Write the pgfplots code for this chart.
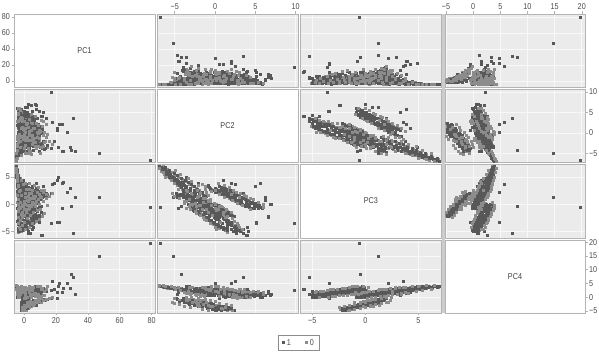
\documentclass[border=0pt]{standalone}
\usepackage{pgfplots}
\usepackage{pgfplotstable}
\usepackage{fontspec}
\setmainfont[FakeStretch=0.85]{Liberation Sans}
\pgfplotsset{compat=1.18}
\pgfplotstableread{
PC1 PC2 PC3 PC4
79.5 -6.8 -0.55 19.7
47 -5.1 1.2 14.8
31 3.5 -5.3 7.2
29.5 -4.2 -0.5 8.2
17 9.9 -3.6 2.3
32 -4.6 1.2 1.1
27.5 0.0 2.2 4.9
29 -3.5 2.9 3.3
24.5 -4.4 4.0 3.3
24 -4.5 -0.7 1.5
21.5 -3.5 4.9 3.8
22 2.0 -3.4 4.9
21 0.5 -3.4 -0.5
18 2.5 3.6 5.8
19 -2.0 3.8 2.6
24 2.1 3.9 1.5
21 1.1 4.3 1.6
14 3.5 2.0 2.0
7.3 6.9 0.0 0.6
4.8 6.6 -2.4 2.0
2.3 6.3 1.2 0.4
8 5.6 3.9 1.2
10 5.2 -3.4 1.5
11.6 4.0 -5.7 2.7
4 3.5 -5.3 0.8
3 4.2 -5.0 2.0
6 4.0 -4.3 1.0
11 3.9 -5.8 2.7
3 2.7 -5.3 1.0
5 3.5 -4.6 0.5
5 5.2 -3.5 1.2
7.5 6.7 -2.3 1.3
12.5 5.0 3.3 0.7
1 6.3 0.7 0.4
3 7.0 0.0 0.9
-1.8 2.4 -2.2 -4.8
0.0 0.7 -2.1 -4.1
-1.5 1.5 -2.0 -4.4
-1.8 0.0 -1.9 -4.8
-0.4 1.6 -1.8 -3.8
-1.8 0.5 -1.7 -4.3
1.2 1.9 -1.6 -3.8
-1.2 -0.3 -1.5 -4.4
1.1 0.8 -1.4 -3.3
2.0 -0.2 -1.3 -4.1
-0.3 1.1 -1.2 -3.5
-1.5 -0.8 -1.1 -4.2
3.4 0.6 -1.0 -3.1
0.2 0.9 -0.9 -3.9
-1.4 -1.0 -0.8 -3.0
2.6 0.5 -0.7 -3.6
5.2 -1.3 -0.6 -2.6
-1.1 0.1 -0.5 -3.5
1.0 -1.2 -0.4 -2.7
4.0 0.4 -0.3 -3.2
6.4 -0.9 -0.2 -2.4
-1.5 -1.9 -0.1 -3.2
2.8 -0.4 0.0 -2.3
7.6 -2.5 0.1 -2.9
0.4 -0.6 0.2 -2.0
4.9 -1.4 0.3 -2.7
9.0 -2.9 0.4 -1.9
-1.2 -0.9 0.5 -2.5
3.2 -2.4 0.6 -1.6
6.5 -1.3 0.7 -2.3
10.5 -3.5 0.8 -1.4
1.5 -1.7 0.9 -2.0
8.0 -2.9 1.0 -1.2
-0.6 -1.8 1.1 -1.9
11.8 -3.9 1.2 -1.0
4.2 -2.2 1.3 -1.6
13.5 -3.7 1.4 -0.9
2.0 -2.5 1.5 -1.5
9.5 -4.6 1.6 -0.7
15 -3.1 1.7 -0.8
5.8 -4.3 1.8 -1.1
17 -3.9 1.9 -0.5
3.0 -4.8 2.0 -0.6
-3.2 3.2 -5.0 0.0
-1.5 1.6 -4.9 1.0
-3.6 2.7 -4.8 -0.1
0.6 1.1 -4.7 0.9
-2.4 2.9 -4.6 1.2
2.0 1.3 -4.5 -0.2
-3.7 2.8 -4.4 1.1
-0.6 0.8 -4.3 1.5
3.0 2.4 -4.2 0.1
-3.1 0.7 -4.1 1.4
1.0 2.5 -4.0 0.2
-1.8 0.3 -3.9 1.7
4.5 1.9 -3.8 0.3
-3.6 0.2 -3.7 1.3
1.4 2.1 -3.6 1.9
6.0 -0.1 -3.5 0.5
-2.2 1.8 -3.4 1.8
3.5 -0.3 -3.3 0.7
-3.8 1.7 -3.2 2.2
7.2 -0.4 -3.1 1.0
0.2 1.6 -3.0 2.3
5.0 -0.7 -2.9 0.6
-2.8 1.2 -2.8 2.0
8.8 -1.0 -2.7 2.4
2.2 1.1 -2.6 1.0
-3.4 -1.0 -2.5 2.3
5.8 0.6 -2.4 1.0
1.0 -1.4 -2.3 2.8
10.3 0.4 -2.2 1.2
-1.5 -1.5 -2.1 2.6
3.9 0.3 -2.0 2.9
6.9 -1.9 -1.9 1.2
-3.2 -0.1 -1.8 2.7
12.2 -2.1 -1.7 3.2
1.7 -0.3 -1.6 1.5
5.2 -2.3 -1.5 2.6
-1.1 -0.4 -1.4 3.3
8.4 -2.5 -1.3 1.6
3.0 -0.7 -1.2 3.0
-3.6 -2.7 -1.1 2.0
6.4 -0.8 -1.0 3.5
0.5 -2.6 -0.9 2.5
9.7 -0.9 -0.8 1.8
-2.4 -2.9 -0.7 3.4
4.2 -1.1 -0.6 2.0
11 -3.0 -0.5 3.0
-0.4 -1.3 -0.4 2.2
7.3 -3.2 -0.3 3.7
2.2 -1.6 -0.2 2.1
-3.0 -3.3 -0.1 3.2
5.7 -1.4 0.0 2.4
-3.8 5.9 -0.8 -0.1
-3.0 4.5 -0.7 0.7
-1.9 5.7 -0.6 0.0
-3.5 4.9 -0.5 1.2
-0.9 3.8 -0.4 -0.2
-3.1 5.5 -0.3 1.1
0.6 4.0 -0.2 0.1
-2.3 5.0 -0.1 1.4
-3.7 3.4 0.0 -0.1
1.9 4.7 0.1 0.6
-0.6 3.2 0.2 1.5
3.1 4.4 0.3 0.2
-2.6 3.0 0.4 1.7
5.1 3.9 0.5 0.4
0.9 2.7 0.6 1.6
-3.3 4.2 0.7 0.4
6.3 2.5 0.8 1.9
2.5 3.8 0.9 0.6
-1.1 2.2 1.0 1.9
8.6 3.6 1.1 0.6
3.9 1.9 1.2 2.0
-2.9 3.3 1.3 0.8
10.1 1.5 1.4 2.1
1.3 3.0 1.5 1.0
5.6 1.2 1.6 2.3
-3.6 2.8 1.7 0.9
11.6 0.9 1.8 2.1
3.0 2.6 1.9 1.1
7.5 0.6 2.0 2.4
-1.7 2.5 2.1 1.2
4.3 0.2 2.2 2.7
9.3 2.0 2.3 1.3
-3.1 0.0 2.4 2.6
1.1 1.9 2.5 1.5
6.1 -0.2 2.6 2.9
3.1 1.4 2.7 1.6
-2.1 -0.5 2.8 2.7
8.1 1.2 2.9 1.7
0.5 -0.7 3.0 3.0
2.2 0.9 3.1 1.9
-3.0 -0.9 3.2 2.9
5.0 0.6 3.3 1.9
-1.0 -0.8 3.4 3.1
-3.6 -1.1 1.5 0.6
1.0 -3.1 1.6 2.3
4.5 -1.4 1.7 0.9
-2.0 -3.4 1.9 2.5
2.8 -1.6 2.1 1.2
-3.9 -3.6 2.3 2.5
5.6 -2.1 2.4 1.3
0.0 -3.9 2.6 2.8
-2.9 -2.2 2.8 1.4
3.0 -4.2 3.0 3.0
-3.8 -2.5 3.2 1.7
-1.0 -4.4 3.4 3.1
1.5 -2.9 3.6 1.8
-3.5 -4.7 3.8 3.2
-2.2 -3.3 4.0 2.0
-4.1 -5.0 4.2 3.3
-0.5 -3.7 4.4 2.3
-3.7 -5.3 4.6 3.5
-2.8 -4.2 4.8 2.4
-4.4 -5.7 5.0 3.6
-3.6 -4.7 5.2 2.8
-4.5 -6.0 5.4 3.7
-4.0 -5.0 5.7 3.1
-4.6 -6.3 6.0 3.8
-4.3 -5.6 6.2 3.3
-4.7 -6.5 6.5 3.9
-4.5 -6.2 6.8 3.5
-4.8 -6.9 7.0 4.0
}\dataA
\pgfplotstableread{
PC1 PC2 PC3 PC4
-1.3 0.8 -2.3 -4.4
0.0 2.2 -2.15 -4.9
-1.9 -0.1 -2.0 -4.1
0.6 1.9 -1.85 -4.6
-0.7 0.0 -1.75 -3.9
1.3 1.5 -1.65 -4.8
-1.5 -0.4 -1.55 -3.7
0.3 1.2 -1.45 -4.5
2.0 -0.5 -1.35 -3.5
-0.9 1.6 -1.25 -4.4
1.0 -0.7 -1.15 -3.3
2.8 1.3 -1.05 -4.3
-1.3 -0.9 -0.95 -3.1
3.6 1.0 -0.85 -3.8
0.9 -1.2 -0.75 -2.9
-0.4 0.9 -0.65 -3.9
2.7 -1.1 -0.55 -2.8
4.8 0.6 -0.45 -3.5
-1.6 -1.6 -0.35 -2.8
1.8 0.5 -0.25 -3.4
3.5 -1.9 -0.15 -2.4
6.0 0.2 -0.05 -3.0
-0.2 -1.9 0.05 -2.2
2.6 -0.1 0.15 -3.0
5.0 -2.4 0.25 -2.0
7.8 -0.5 0.35 -2.8
0.9 -2.6 0.45 -1.8
3.9 -0.6 0.55 -2.6
6.6 -2.8 0.65 -1.7
-1.0 -0.9 0.75 -2.4
9.4 -2.2 0.85 -1.5
2.3 -3.3 0.95 -2.2
5.9 -1.5 1.05 -1.4
11.2 -3.4 1.15 -1.9
1.1 -1.9 1.25 -1.2
7.7 -3.7 1.35 -1.8
13.2 -2.2 1.45 -1.1
3.4 -4.1 1.55 -1.4
10.3 -2.7 1.65 -0.8
-0.8 -4.4 1.75 -1.3
14.5 -3.5 1.85 -0.7
-3.2 1.5 -5.1 0.9
-1.6 3.3 -4.95 0.3
-0.2 1.3 -4.85 1.2
-2.8 2.9 -4.75 -0.2
1.0 1.0 -4.65 1.3
-3.6 2.7 -4.55 0.1
0.2 0.6 -4.45 1.4
-1.2 2.6 -4.35 -0.1
3.0 0.5 -4.25 1.6
-3.0 2.4 -4.1 0.1
1.6 0.2 -3.95 1.6
-0.4 2.5 -3.85 0.3
5.0 -0.2 -3.75 1.8
-2.4 2.2 -3.55 0.4
2.2 -0.3 -3.45 2.0
6.4 1.9 -3.35 0.6
-3.6 -0.5 -3.15 2.1
0.5 1.7 -3.05 0.7
3.6 -0.8 -2.95 2.2
-1.7 1.4 -2.75 0.9
7.6 -1.0 -2.65 2.4
1.4 1.3 -2.55 0.9
-3.1 -1.1 -2.35 2.6
4.2 1.0 -2.25 1.1
9.3 -1.3 -2.15 2.6
-0.6 0.8 -1.95 1.3
2.6 -1.6 -1.85 2.8
6.0 0.6 -1.75 1.3
-2.2 -1.8 -1.55 3.0
11 0.5 -1.45 1.4
0.6 -2.0 -1.35 3.1
4.4 0.2 -1.25 1.6
-3.4 -2.3 -1.05 3.3
7.4 0.0 -0.95 1.7
1.9 -2.5 -0.85 3.2
-1.5 -0.5 -0.65 1.9
5.4 -2.8 -0.55 3.4
9.6 -0.7 -0.45 2.0
0.0 -3.0 -0.25 3.5
3.2 -1.0 -0.15 2.2
-2.6 -3.2 -0.05 3.6
6.9 -1.2 0.1 2.3
-3.2 5.4 -0.75 0.8
-1.2 4.3 -0.65 -0.1
-3.6 5.8 -0.55 0.9
-2.0 4.1 -0.45 0.0
-0.2 5.2 -0.35 1.2
-3.3 3.6 -0.25 0.1
-1.4 5.0 -0.15 1.3
1.0 3.3 -0.05 -0.1
-3.0 4.8 0.05 1.4
-0.2 3.0 0.15 0.2
2.4 4.6 0.25 1.5
-3.8 2.9 0.35 0.2
3.6 4.3 0.45 1.6
-1.2 2.6 0.55 0.3
5.6 4.1 0.65 1.7
0.2 2.3 0.75 0.4
-3.0 3.9 0.85 1.8
7.2 2.1 0.95 0.5
2.0 3.6 1.05 1.9
-0.6 1.8 1.15 0.6
4.5 3.4 1.25 2.0
9.2 1.6 1.35 0.7
-2.4 3.1 1.45 2.1
1.8 1.3 1.55 0.8
6.4 2.9 1.65 2.2
-3.5 1.0 1.75 0.9
3.3 2.6 1.85 2.3
10.8 0.8 1.95 1.0
-0.6 2.4 2.05 2.4
5.1 0.5 2.15 1.1
8.0 2.1 2.25 2.5
-2.6 0.3 2.35 1.3
2.0 1.8 2.45 2.6
6.8 0.0 2.55 1.4
-0.8 1.5 2.65 2.7
4.0 -0.4 2.75 1.5
-3.2 1.3 2.85 2.8
1.5 -0.6 2.95 1.6
3.0 1.0 3.15 2.9
-1.7 -0.9 3.3 1.8
-3.2 -3.0 1.55 2.2
2.0 -1.2 1.65 0.8
-1.0 -3.4 1.8 2.4
-3.8 -1.5 2.0 1.0
3.6 -3.7 2.2 2.6
-1.4 -1.9 2.45 1.2
-3.2 -4.0 2.65 2.8
1.6 -2.3 2.9 1.5
-4.0 -4.3 3.1 3.0
-1.6 -2.8 3.3 1.6
0.4 -4.6 3.5 3.1
-3.0 -3.2 3.7 1.9
-4.2 -4.9 3.9 3.3
-1.4 -3.6 4.1 2.1
-3.4 -5.2 4.3 3.4
-4.4 -4.0 4.5 2.3
-2.2 -5.5 4.7 3.5
-4.0 -4.5 4.9 2.6
-4.5 -5.9 5.1 3.7
-3.2 -5.0 5.3 2.8
-4.6 -6.3 5.55 3.8
-4.2 -5.3 5.8 3.0
-4.7 -6.6 6.05 3.9
-4.4 -5.9 6.3 3.3
-4.8 -6.9 6.6 4.0
-4.6 -6.4 6.9 3.6
}\dataB
\pgfplotstableread{
PC1 PC2 PC3 PC4
-1.0 1.5 -2.2 -4.6
-0.2 1.9 -2.13 -4.3
-1.7 0.8 -2.06 -4.8
0.5 2.1 -1.99 -4.0
-1.6 0.2 -1.92 -4.8
-0.8 1.3 -1.85 -4.4
0.2 0.7 -1.78 -4.2
-1.3 1.6 -1.71 -4.2
0.9 0.1 -1.64 -4.1
1.6 0.7 -1.57 -3.7
-1.0 0.6 -1.5 -4.4
1.2 1.7 -1.43 -3.8
-0.4 0.4 -1.36 -3.9
2.2 0.8 -1.29 -3.5
-1.6 -0.3 -1.22 -4.1
3.0 1.0 -1.15 -3.3
0.1 -0.9 -1.08 -4.0
-1.1 0.2 -1.01 -3.7
1.9 -0.5 -0.94 -3.4
-0.5 0.4 -0.87 -3.5
2.5 -1.1 -0.8 -3.4
4.2 -0.5 -0.73 -2.9
-1.7 -0.6 -0.66 -3.7
3.2 0.5 -0.59 -3.0
0.3 -0.8 -0.52 -3.2
5.0 -0.4 -0.45 -2.8
-1.2 -1.5 -0.38 -3.3
2.1 -0.2 -0.31 -2.6
0.9 -2.1 -0.24 -3.3
4.0 -1.0 -0.17 -3.0
-0.6 -1.7 -0.1 -2.7
6.2 -0.8 -0.03 -2.7
1.5 -2.3 0.04 -2.7
3.4 -1.7 0.11 -2.2
-1.4 -1.8 0.18 -2.9
7.0 -0.6 0.25 -2.3
2.4 -1.9 0.32 -2.4
5.2 -1.5 0.39 -2.1
-0.7 -2.6 0.46 -2.6
8.4 -1.3 0.53 -1.8
1.0 -3.2 0.6 -2.6
3.9 -2.1 0.67 -2.2
6.6 -2.8 0.74 -2.0
-1.5 -1.9 0.81 -2.0
2.7 -3.4 0.88 -1.9
9.8 -2.8 0.95 -1.5
0.6 -2.9 1.02 -2.2
5.5 -1.8 1.09 -1.6
7.4 -3.1 1.16 -1.7
-0.9 -2.7 1.23 -1.3
3.2 -3.8 1.3 -1.9
11.4 -2.5 1.37 -1.1
1.9 -4.4 1.44 -1.8
6.1 -3.3 1.51 -1.5
12.8 -4.0 1.58 -1.2
0.2 -3.1 1.65 -1.3
-2.8 2.3 -5.0 0.4
-1.0 2.8 -4.91 0.7
-3.4 1.6 -4.82 0.3
0.2 3.1 -4.73 1.0
-2.2 1.0 -4.64 0.2
1.2 2.0 -4.55 0.5
-3.7 1.6 -4.46 0.9
-0.4 2.5 -4.37 0.8
2.4 1.0 -4.28 0.8
-2.0 1.6 -4.19 1.3
0.6 1.6 -4.1 0.3
-3.0 0.3 -4.01 1.2
3.8 1.5 -3.92 0.9
-1.3 2.0 -3.83 1.3
0.9 0.4 -3.74 0.6
-3.5 1.6 -3.65 1.0
4.8 0.9 -3.56 1.2
-1.7 2.1 -3.47 1.6
1.6 -0.1 -3.38 0.8
5.6 0.6 -3.29 1.0
-2.7 1.4 -3.2 1.6
0.0 0.6 -3.11 0.8
6.7 1.6 -3.02 1.6
-3.2 -0.4 -2.93 0.9
2.3 0.4 -2.84 1.5
-1.0 0.2 -2.75 1.7
4.5 0.1 -2.66 1.2
8.0 1.2 -2.57 1.5
-2.4 -0.8 -2.48 1.1
1.4 -0.1 -2.39 2.2
5.3 -0.7 -2.3 1.4
-0.3 0.6 -2.21 2.0
9.6 0.5 -2.12 2.1
3.0 -0.6 -2.03 1.6
-3.4 -0.5 -1.94 1.4
6.4 0.0 -1.85 1.6
0.8 -0.9 -1.76 2.6
-2.0 -1.3 -1.67 1.7
4.2 -1.3 -1.58 2.5
11.0 -0.1 -1.49 2.6
-0.9 -2.0 -1.4 2.3
2.7 -1.0 -1.31 1.9
7.6 -1.7 -1.22 2.7
-3.0 -0.9 -1.13 2.7
5.0 -1.5 -1.04 2.2
0.3 -0.3 -0.95 2.3
8.8 -1.8 -0.86 3.0
-1.8 -2.5 -0.77 1.8
3.5 -1.4 -0.68 2.4
-0.6 -2.0 -0.59 2.4
6.0 -2.6 -0.5 2.9
1.6 -1.0 -0.41 2.5
-3.2 -1.7 -0.32 2.1
4.6 -2.3 -0.23 3.0
10 -1.1 -0.14 2.6
-3.4 4.9 -0.8 0.3
-2.2 5.4 -0.72 0.7
-1.0 4.3 -0.64 0.1
-3.0 5.6 -0.56 0.9
-0.2 3.8 -0.48 0.0
-2.6 5.0 -0.4 0.4
-1.4 4.2 -0.32 0.6
0.4 5.3 -0.24 0.5
-3.4 3.7 -0.16 0.6
1.2 4.3 -0.08 1.0
-1.8 3.9 0.0 0.1
2.4 5.0 0.08 0.9
-0.8 3.9 0.16 0.7
-3.0 4.5 0.24 1.1
3.6 3.2 0.32 0.5
0.0 4.6 0.4 1.3
-2.2 2.7 0.48 0.6
4.4 3.3 0.56 0.9
-0.5 3.0 0.64 1.1
1.9 4.0 0.72 1.0
-3.6 2.4 0.8 0.8
6.8 3.3 0.88 1.5
2.8 2.1 0.96 1.3
-1.4 3.4 1.04 1.6
5.0 2.5 1.12 1.0
-2.6 2.6 1.2 1.4
7.8 2.0 1.28 1.3
0.6 1.7 1.36 1.7
3.4 1.2 1.44 1.4
-3.0 2.0 1.52 1.6
8.9 1.3 1.6 2.0
1.9 2.4 1.68 1.3
-0.8 1.0 1.76 1.5
5.8 1.9 1.84 1.8
10.4 1.3 1.92 1.4
-2.4 1.7 2.0 1.7
3.6 1.0 2.08 2.1
7.0 1.3 2.16 1.7
0.0 0.4 2.24 2.2
-3.4 1.4 2.32 2.2
4.9 1.2 2.4 1.9
2.4 0.5 2.48 2.5
8.6 0.8 2.56 1.7
-1.2 0.1 2.64 2.0
5.6 1.2 2.72 2.4
1.0 0.2 2.8 2.6
-2.6 0.1 2.88 2.1
3.6 0.8 2.96 2.2
-3.6 -2.0 1.5 1.5
0.5 -2.4 1.64 1.9
3.2 -1.9 1.78 1.3
-2.8 -2.9 1.92 2.1
1.4 -2.4 2.06 1.5
-3.6 -2.6 2.2 2.0
4.0 -3.1 2.34 2.3
-1.2 -2.6 2.48 1.7
-3.4 -3.2 2.62 1.9
2.2 -3.5 2.76 2.5
-2.4 -3.0 2.9 2.0
-0.4 -3.7 3.04 2.2
-3.8 -3.6 3.18 2.7
0.8 -3.6 3.32 2.0
-2.6 -3.8 3.46 2.5
-1.2 -4.1 3.6 2.4
-4.0 -3.9 3.74 2.6
-0.2 -4.4 3.88 2.8
-3.0 -4.0 4.02 2.6
-4.2 -4.5 4.16 2.9
-1.8 -4.8 4.3 2.7
-3.6 -4.6 4.44 2.8
-4.3 -4.8 4.58 3.1
-2.6 -5.0 4.72 2.9
-4.0 -5.1 4.86 3.0
-4.5 -5.3 5.0 3.2
-3.4 -5.4 5.14 3.1
-4.4 -5.5 5.28 3.2
-4.6 -5.5 5.42 3.3
-3.9 -5.8 5.56 3.4
-4.5 -5.6 5.7 3.5
-4.7 -6.1 5.85 3.4
-4.3 -6.0 6.0 3.5
-4.6 -6.2 6.15 3.6
-4.8 -6.3 6.3 3.6
-4.5 -6.5 6.45 3.7
-4.7 -6.7 6.6 3.7
-4.8 -6.7 6.75 3.8
}\dataC
\pgfplotstableread{
PC1 PC2 PC3 PC4
0.5 -0.3 -2.0 -3.5
1.5 2.0 -1.5 -3.0
-1.0 -0.8 -1.5 -4.9
3.0 1.4 -1.0 -2.6
0.0 -1.5 -1.0 -4.5
7.0 -2.3 -0.5 -2.1
-0.5 0.8 -0.5 -4.1
4.5 0.5 -0.5 -2.4
9.5 0.1 0.0 -1.6
1.0 -3.0 0.0 -3.7
5.5 -2.8 0.0 -1.9
12 -0.6 0.5 -1.2
2.5 -3.8 0.5 -3.3
8.0 -3.5 0.5 -1.4
0.0 -0.8 0.5 -3.1
14 -1.2 1.0 -0.8
4.0 -4.4 1.0 -2.8
6.5 -1.4 1.0 -2.6
16 -2.0 1.5 -0.4
3.0 -5.0 1.5 -2.3
10.5 -5.0 1.5 -0.6
6.0 -2.1 1.5 -2.2
18 -2.9 2.0 -0.1
4.5 -5.3 2.0 -1.8
11 -3.6 2.5 0.0
2.0 -1.9 -0.2 -3.6
3.6 -0.6 0.8 -3.3
5.8 -2.2 1.3 -3.0
8.7 -1.0 2.2 -1.9
12.5 -3.4 2.4 -1.4
-0.9 1.3 -2.4 -3.9
2.2 -1.0 -1.0 -2.1
4.1 -1.8 -0.2 -1.5
6.9 -2.4 0.2 -1.1
9.2 -3.2 0.8 -0.7
-2.5 3.4 -4.7 1.6
1.0 0.2 -4.6 1.9
-3.1 3.0 -4.3 -0.3
3.5 0.0 -4.2 2.2
-1.0 2.9 -3.9 2.0
5.5 -0.6 -3.6 2.5
-3.4 2.8 -3.5 -0.1
0.0 0.7 -3.3 2.6
7.5 2.4 -3.1 0.1
-2.2 -1.0 -3.0 2.9
9.5 -1.3 -2.8 0.3
2.4 2.2 -2.6 2.9
-3.2 -1.4 -2.4 0.4
11.5 1.5 -2.2 3.1
4.0 -1.8 -2.1 0.5
-1.3 1.1 -1.9 3.3
13 -2.3 -1.7 0.7
6.0 1.0 -1.5 3.4
-3.6 -2.4 -1.3 0.8
8.2 0.2 -1.2 3.7
1.2 -3.1 -1.0 1.1
10.5 0.4 -0.9 3.8
-2.0 -3.5 -0.8 1.2
3.3 0.0 -0.7 3.9
7.0 -3.2 -0.4 1.4
14.5 -0.4 -0.2 3.9
0.0 -3.8 0.1 1.5
5.1 -1.4 0.3 3.6
-3.6 4.4 -0.9 1.5
-2.6 6.0 -0.6 0.9
-1.0 3.4 -0.3 1.8
-3.2 6.0 0.0 1.5
0.5 2.8 0.2 -0.5
-2.2 5.4 0.4 1.9
2.2 2.2 0.6 -0.3
-3.4 4.8 0.8 2.2
4.5 4.4 1.0 -0.1
0.8 1.2 1.2 2.5
7.0 3.9 1.4 0.2
-1.6 3.7 1.6 2.7
9.4 0.5 1.8 0.3
3.2 3.2 2.0 2.9
12 2.7 2.2 0.6
-2.6 -0.4 2.4 3.1
5.4 2.3 2.6 0.8
1.6 -1.2 2.8 3.3
8.8 1.8 3.0 1.0
-3.4 -1.2 3.2 3.4
6.6 1.2 3.4 1.2
-0.6 -1.6 3.6 3.5
3.4 0.4 3.8 1.5
10.7 3.0 1.3 2.6
14 2.0 1.8 2.9
13 0.0 2.6 1.9
-3.8 -0.8 1.7 2.8
1.2 -1.8 2.0 0.3
-2.2 -2.2 2.6 0.8
3.5 -4.5 2.8 3.4
-3.4 -2.0 3.4 1.1
0.7 -5.0 3.8 3.6
-4.0 -2.9 4.1 1.4
-1.6 -5.4 4.4 3.8
-3.8 -3.3 4.8 1.9
-4.3 -6.1 5.0 4.0
-4.4 -4.3 5.4 2.4
-4.5 -6.4 5.8 4.1
-4.5 -4.9 6.2 2.9
-4.7 -6.9 6.5 4.2
}\dataD
\definecolor{frm}{HTML}{B4B4B4}
\definecolor{pbg}{HTML}{EBEBEB}
\definecolor{grd}{HTML}{F8F8F8}
\definecolor{darkp}{HTML}{585858}
\definecolor{lightp}{HTML}{8C8C8C}
\pgfplotsset{
  every axis/.append style={scale only axis, anchor=south west, axis line style={draw=frm,line width=0.9pt},
    tick align=outside, major tick length=2.5pt, tick style={draw=frm,line width=0.5pt},
    grid=major, grid style={draw=grd,line width=0.7pt}, axis on top=false,
    xticklabels={}, yticklabels={}, x tick style={draw=none}, y tick style={draw=none},
    ticklabel style={font=\fontsize{8.5}{9}\selectfont, text=black!70},
    xtick pos=bottom, ytick pos=left,
    xticklabel style={inner sep=1.5pt}, yticklabel style={inner sep=1.5pt},
    axis background/.style={fill=pbg}},
  xPC1/.style={xmin=-6.3,xmax=82.1,xtick={0,20,40,60,80},width=141pt},
  xPC2/.style={xmin=-7.2,xmax=10.3,xtick={-5,0,5,10},width=141pt},
  xPC3/.style={xmin=-6.16,xmax=7.2,xtick={-5,0,5},width=141.7pt},
  xPC4/.style={xmin=-5.2,xmax=20.6,xtick={-5,0,5,10,15,20},width=140pt},
  yPC1/.style={ymin=-7.5,ymax=83.75,ytick={0,20,40,60,80},height=73pt},
  yPC2/.style={ymin=-7.07,ymax=10.7,ytick={-5,0,5,10},height=73pt},
  yPC3/.style={ymin=-6.2,ymax=7.4,ytick={-5,0,5},height=74pt},
  yPC4/.style={ymin=-5.8,ymax=20.8,ytick={-5,0,5,10,15,20},height=73pt},
  xl1/.style={xticklabels={0,20,40,60,80},xtick pos=bottom,xticklabel pos=bottom,x tick style={draw=frm,line width=0.5pt}},
  xl3/.style={xticklabels={−5,0,5},xtick pos=bottom,xticklabel pos=bottom,x tick style={draw=frm,line width=0.5pt}},
  xl2/.style={xticklabels={−5,0,5,10},xtick pos=top,xticklabel pos=top,x tick style={draw=frm,line width=0.5pt}},
  xl4/.style={xticklabels={−5,0,5,10,15,20},xtick pos=top,xticklabel pos=top,x tick style={draw=frm,line width=0.5pt}},
  yl1/.style={yticklabels={0,20,40,60,80},ytick pos=left,yticklabel pos=left,y tick style={draw=frm,line width=0.5pt}},
  yl3/.style={yticklabels={−5,0,5},ytick pos=left,yticklabel pos=left,y tick style={draw=frm,line width=0.5pt}},
  yl2/.style={yticklabels={−5,0,5,10},ytick pos=right,yticklabel pos=right,y tick style={draw=frm,line width=0.5pt}},
  yl4/.style={yticklabels={−5,0,5,10,15,20},ytick pos=right,yticklabel pos=right,y tick style={draw=frm,line width=0.5pt}},
  pA/.style={only marks,mark=square*,mark size=1.0pt,color=darkp,line width=0pt},
  pB/.style={only marks,mark=square*,mark size=1.0pt,color=lightp,line width=0pt},
}
\newcommand{\panel}[5]{%
  \begin{axis}[at={(#3pt,#4pt)},x#1,y#2,#5]
    \addplot[pB] table[x=#1,y=#2] {\dataB};
    \addplot[pA] table[x=#1,y=#2] {\dataA};
    \addplot[pA] table[x=#1,y=#2] {\dataC};
    \addplot[pB] table[x=#1,y=#2] {\dataD};
  \end{axis}}
\newcommand{\diag}[4]{%
  \begin{axis}[at={(#2pt,#3pt)},x#1,y#1,grid=none,axis background/.style={fill=white},#4]
    \node[font=\fontsize{8.5}{9}\selectfont,text=black!75] at (rel axis cs:0.5,0.5) {#1};
  \end{axis}}
\begin{document}
\begin{tikzpicture}[x=1pt,y=1pt]
\path[use as bounding box,fill=white] (0,0) rectangle (599,353);
\fill[black!20] (441.5,40) rectangle (445,339);
\diag{PC1}{14}{266}{yl1}
\panel{PC2}{PC1}{157}{266}{xl2}
\panel{PC3}{PC1}{300}{266}{}
\panel{PC4}{PC1}{445}{266}{xl4}
\panel{PC1}{PC2}{14}{191}{}
\diag{PC2}{157}{191}{}
\panel{PC3}{PC2}{300}{191}{}
\panel{PC4}{PC2}{445}{191}{yl2}
\panel{PC1}{PC3}{14}{115}{yl3}
\panel{PC2}{PC3}{157}{115}{}
\diag{PC3}{300}{115}{}
\panel{PC4}{PC3}{445}{115}{}
\panel{PC1}{PC4}{14}{40}{xl1}
\begin{axis}[at={(157pt,40pt)},xPC2,yPC4,
  legend style={at={(1.01,-0.41)},anchor=center,legend columns=2,draw=black!45,line width=0.9pt,
    font=\fontsize{8.5}{9}\selectfont,text=black!70,inner xsep=4pt,inner ysep=1.5pt,
    /tikz/column 2/.style={column sep=13pt}}]
  \addplot[pA] table[x=PC2,y=PC4] {\dataA};
  \addlegendentry{1}
  \addplot[pB] table[x=PC2,y=PC4] {\dataB};
  \addlegendentry{0}
  \addplot[pA,forget plot] table[x=PC2,y=PC4] {\dataC};
  \addplot[pB,forget plot] table[x=PC2,y=PC4] {\dataD};
\end{axis}
\panel{PC3}{PC4}{300}{40}{xl3}
\diag{PC4}{445}{40}{yl4}
\end{tikzpicture}
\end{document}
